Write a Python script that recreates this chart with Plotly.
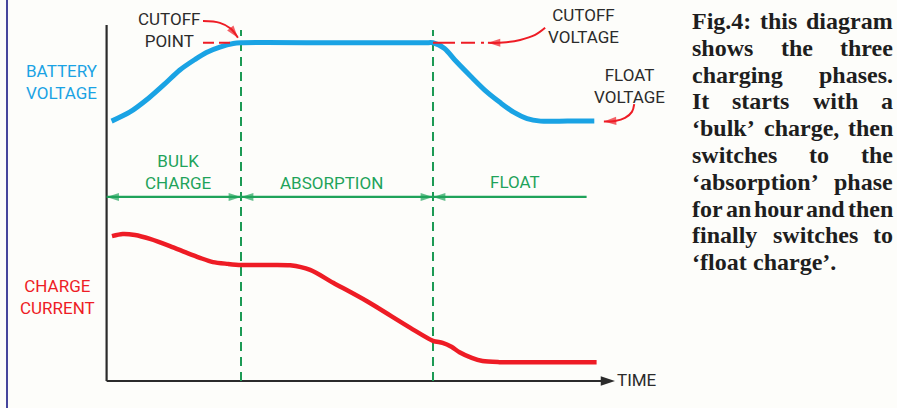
import plotly.graph_objects as go

# ---------------- data (arbitrary diagram units) ----------------
phase_labels = ["BULK<br>CHARGE", "ABSORPTION", "FLOAT"]
phase_bounds = [0, 35, 85, 125]          # time units
phase_label_x = [18.6, 58.5, 106.4]

cutoff_voltage = 95
float_voltage = 73

time_v = [1.3, 6, 11, 15, 19, 23, 26, 29.5, 33, 35, 60, 83, 85, 88, 91, 95, 99,
          102.5, 106, 109.5, 113, 120, 127]
voltage = [73, 75.5, 79.5, 83.3, 87.3, 90.3, 92.3, 93.8, 94.8, 95, 95, 95, 95,
           93.4, 89.8, 85.4, 81.2, 78.2, 75.5, 73.7, 73, 73, 73]

time_i = [1.4, 4.2, 7.4, 11.3, 16.5, 20.9, 24.3, 27.7, 31.6, 35, 41.2, 47.8, 53,
          59, 67.8, 79, 85, 87.5, 89.8, 91.9, 95.1, 97.9, 102.3, 115, 127.6]
current = [40.7, 41.3, 41.0, 39.9, 37.9, 36.0, 34.6, 33.4, 32.9, 32.6, 32.6, 32.5,
           31.2, 27.6, 22.4, 15.0, 11.3, 10.7, 9.6, 8.1, 6.5, 5.6, 5.3, 5.3, 5.3]

caption_lines = [
    "Fig.4: this diagram",
    "shows the three",
    "charging phases.",
    "It starts with a",
    "\u2018bulk\u2019 charge, then",
    "switches to the",
    "\u2018absorption\u2019 phase",
    "for an hour and then",
    "finally switches to",
    "\u2018float charge\u2019.",
]

# ---------------- styling ----------------
W, H = 897, 408
BG = "#fdfdfa"
BLUE = "#1aa3e4"
RED = "#ee1c25"
GREEN = "#1fa35a"
DGREEN = "#1c9a54"
DARK = "#2b2b2b"
SANS = "Roboto, Arial, sans-serif"
LBL = 17

X_RANGE = [-27.76, 205.83]
Y_RANGE = [-7.58, 107.02]
AXIS_TOP = 100
AXIS_END = 132.4
ARROW_Y = 51.7

fig = go.Figure()

def arrow_line(xs, ys, color, width, heads, angles=None, dash="solid",
               size=13, angleref="up", shape="linear"):
    sizes = [size if h else 0 for h in heads]
    marker = dict(symbol="arrow", size=sizes, color=color,
                  line=dict(width=0), angleref=angleref)
    if angles is not None:
        marker["angle"] = angles
    fig.add_trace(go.Scatter(x=xs, y=ys, mode="lines+markers",
                             line=dict(color=color, width=width, dash=dash,
                                       shape=shape),
                             marker=marker, hoverinfo="skip"))

# axes
fig.add_trace(go.Scatter(x=[0, 0], y=[0, AXIS_TOP], mode="lines",
                         line=dict(color=DARK, width=2.2), hoverinfo="skip"))
fig.add_trace(go.Scatter(x=[0, AXIS_END - 1.5], y=[0, 0], mode="lines",
                         line=dict(color=DARK, width=2.2), hoverinfo="skip"))
fig.add_trace(go.Scatter(x=[AXIS_END], y=[0], mode="markers",
                         marker=dict(symbol="arrow", size=15, color=DARK,
                                     angle=90, line=dict(width=0)),
                         hoverinfo="skip"))

# phase boundaries
for b in phase_bounds[1:3]:
    fig.add_trace(go.Scatter(x=[b, b], y=[0, 98.6], mode="lines",
                             line=dict(color=DGREEN, width=2, dash="9px,6px"),
                             hoverinfo="skip"))

# phase arrows
arrow_line([phase_bounds[0], phase_bounds[1]], [ARROW_Y, ARROW_Y], GREEN, 2.2,
           [True, True], angles=[-90, 90], size=13)
arrow_line([phase_bounds[1], phase_bounds[2]], [ARROW_Y, ARROW_Y], GREEN, 2.2,
           [True, True], angles=[-90, 90], size=13)
arrow_line([phase_bounds[2], phase_bounds[3]], [ARROW_Y, ARROW_Y], GREEN, 2.2,
           [True, False], angles=[-90, 90], size=13)

# curves
fig.add_trace(go.Scatter(x=time_v, y=voltage, mode="lines",
                         line=dict(color=BLUE, width=5, shape="spline",
                                   smoothing=0.8), hoverinfo="skip"))
fig.add_trace(go.Scatter(x=time_i, y=current, mode="lines",
                         line=dict(color=RED, width=4.5, shape="spline",
                                   smoothing=0.8), hoverinfo="skip"))

# cutoff point marker lines / arrows
fig.add_trace(go.Scatter(x=[25.1, 32.9], y=[cutoff_voltage, cutoff_voltage],
                         mode="lines", line=dict(color=RED, width=2, dash="11px,5px"),
                         hoverinfo="skip"))
arrow_line([25.1, 29.5, 32.3, 34.2], [101.1, 100.6, 99.0, 96.4], RED, 2,
           [False, False, False, True], size=13, angleref="previous", shape="spline")

fig.add_trace(go.Scatter(x=[85, 98.5], y=[cutoff_voltage, cutoff_voltage],
                         mode="lines",
                         line=dict(color=RED, width=2,
                                   dash="22px,6px,14px,6px,3px,6px"),
                         hoverinfo="skip"))
arrow_line([114.2, 111.6, 107.7, 103.2, 99.3], [99.2, 97.2, 95.8, 95.05, 95.0],
           RED, 2, [False, False, False, False, True], size=13,
           angleref="previous", shape="spline")

arrow_line([137.4, 136.8, 135.0, 132.4, 129.5], [77.8, 75.6, 73.9, 73.05, float_voltage - 0.1],
           RED, 2, [False, False, False, False, True], size=13,
           angleref="previous", shape="spline")

ann = []
def label(text, x, y, color, size=LBL, xanchor="center"):
    ann.append(dict(text=text, x=x, y=y, xref="x", yref="y", showarrow=False,
                    xanchor=xanchor, yanchor="middle", align="center",
                    font=dict(family=SANS, size=size, color=color),
                    borderpad=0, borderwidth=0))

label("CUTOFF<br>POINT", 16.25, 98.7, DARK)
label("CUTOFF<br>VOLTAGE", 124.1, 99.6, DARK)
label("FLOAT<br>VOLTAGE", 136.1, 83.0, DARK)
label("BATTERY<br>VOLTAGE", -11.6, 84.1, BLUE)
label("CHARGE<br>CURRENT", -12.7, 23.6, RED)
for t, lx, ly in zip(phase_labels, phase_label_x, [58.7, 55.6, 55.9]):
    label(t, lx, ly, GREEN)
label("TIME", 133.0, 0.2, DARK, xanchor="left")

# ---------------- justified caption ----------------
TB = {' ': 250, '\u2018': 333, '\u2019': 333, "'": 333, ',': 250, '.': 250,
      ':': 333, '4': 500, 'F': 611, 'I': 389,
      'a': 500, 'b': 556, 'c': 444, 'd': 556, 'e': 444, 'f': 333, 'g': 500,
      'h': 556, 'i': 278, 'j': 333, 'k': 556, 'l': 278, 'm': 833, 'n': 556,
      'o': 500, 'p': 556, 'q': 556, 'r': 444, 's': 389, 't': 333, 'u': 556,
      'v': 500, 'w': 722, 'x': 500, 'y': 500, 'z': 444}
CAP_SIZE = 24
CAP_L, CAP_R = 692, 893
CAP_Y0, CAP_DY = 21, 26.8
CAP_FONT = dict(family="Liberation Serif, Times New Roman, serif",
                size=CAP_SIZE, color="#1e1e1e", weight="bold")

def wwidth(w):
    return sum(TB.get(c, 500) for c in w) * CAP_SIZE / 1000.0

for li, line in enumerate(caption_lines):
    words = line.split(" ")
    widths = [wwidth(w) for w in words]
    last = li == len(caption_lines) - 1
    if last or len(words) == 1:
        gap = TB[' '] * CAP_SIZE / 1000.0
    else:
        gap = (CAP_R - CAP_L - sum(widths)) / (len(words) - 1)
    py = CAP_Y0 + li * CAP_DY
    xpos = CAP_L
    for wi, (w, wd) in enumerate(zip(words, widths)):
        right = (not last) and wi == len(words) - 1 and len(words) > 1
        ann.append(dict(text=w, x=(CAP_R if right else xpos) / W, y=1 - py / H,
                        xref="paper", yref="paper", showarrow=False,
                        xanchor="right" if right else "left",
                        yanchor="middle", borderpad=0, borderwidth=0,
                        font=CAP_FONT))
        xpos += wd + gap

fig.update_layout(
    width=W, height=H, autosize=False,
    margin=dict(l=0, r=0, t=0, b=0),
    paper_bgcolor=BG, plot_bgcolor=BG,
    showlegend=False,
    xaxis=dict(range=X_RANGE, visible=False, fixedrange=True),
    yaxis=dict(range=Y_RANGE, visible=False, fixedrange=True),
    annotations=ann,
    shapes=[dict(type="line", xref="paper", yref="paper",
                 x0=7 / W, x1=7 / W, y0=0, y1=1,
                 line=dict(color="#46469c", width=2))],
)

fig.write_html("out.html", config={"displayModeBar": False},
               post_script="document.body.style.margin='0';"
                           "document.body.style.overflow='hidden';"
                           "document.body.style.background='" + BG + "';")
